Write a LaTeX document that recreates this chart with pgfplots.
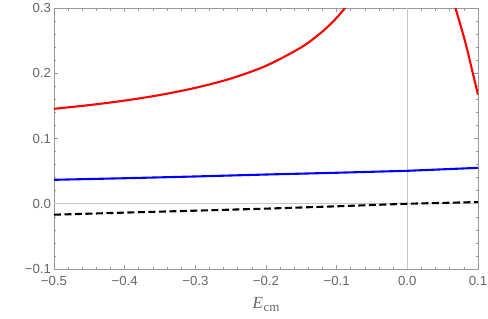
\documentclass[border=0pt]{standalone}
\usepackage{fontspec}
\setmainfont{Liberation Sans}
\newfontfamily\timesfont{Liberation Serif}
\usepackage{pgfplots}
\pgfplotsset{compat=1.18}
\definecolor{tickgray}{gray}{0.4}
\definecolor{framegray}{gray}{0.6}
\begin{document}
\begin{tikzpicture}
\begin{axis}[
 scale only axis, width=424pt, height=261pt,
 xmin=-0.5, xmax=0.1, ymin=-0.1, ymax=0.3,
 xtick={-0.5,-0.4,-0.3,-0.2,-0.1,0,0.1},
 xticklabels={−0.5,−0.4,−0.3,−0.2,−0.1,0.0,0.1},
 ytick={-0.1,0,0.1,0.2,0.3},
 yticklabels={−0.1,0.0,0.1,0.2,0.3},
 minor x tick num=4, minor y tick num=4,
 axis line style={framegray, line width=0.7pt},
 major tick style={framegray, line width=0.7pt},
 minor tick style={framegray, line width=0.6pt},
 major tick length=4pt, minor tick length=2.5pt,
 tick label style={font=\fontsize{13.2}{14}\selectfont, text=tickgray},
 xticklabel style={yshift=-4pt},
 yticklabel style={xshift=0.5pt},
 xlabel={\timesfont\fontsize{17}{17}\selectfont\textit{E}\kern0.5pt\raisebox{-0.35ex}{\fontsize{13}{13}\selectfont cm}},
 xlabel style={at={(rel axis cs:0.5,0)}, anchor=base, yshift=-39.5pt, text=tickgray, inner sep=0pt},
]
\coordinate (sw) at (rel axis cs:0,0);
\coordinate (ne) at (rel axis cs:1,1);
\addplot[gray!45, line width=0.6pt] coordinates {(0,-0.1) (0,0.3)};
\addplot[gray!45, line width=0.6pt] coordinates {(-0.5,0) (0.1,0)};
\addplot[black, line width=2.1pt, dash pattern=on 7pt off 3.5pt] coordinates {
 (-0.5,-0.0168) (-0.4,-0.0136) (-0.3,-0.0106) (-0.2,-0.0075) (-0.1,-0.0039) (0,0.0) (0.1,0.0026)};
\addplot[blue, line width=2.1pt] coordinates {
 (-0.5,0.0367) (-0.4,0.0391) (-0.3,0.0418) (-0.2,0.0448) (-0.1,0.0475) (0,0.0505) (0.1,0.055)};
\addplot[red, line width=2.1pt, smooth, tension=0.5] coordinates {
 (-0.5,0.1455) (-0.45,0.1512) (-0.4,0.1581) (-0.35,0.1667) (-0.3,0.1776) (-0.25,0.1918)
 (-0.2,0.2114) (-0.15,0.2398) (-0.12,0.2641) (-0.1,0.2850) (-0.085,0.3043)};
\addplot[red, line width=2.1pt, smooth, tension=0.5] coordinates {
 (0.0665,0.306) (0.0735,0.280) (0.0789,0.260) (0.0850,0.235) (0.0907,0.209) (0.1,0.167)};
\end{axis}
\pgfresetboundingbox
\path[use as bounding box] ([xshift=-54pt,yshift=-50pt]sw) rectangle ([xshift=10pt,yshift=8pt]ne);
\end{tikzpicture}
\end{document}
